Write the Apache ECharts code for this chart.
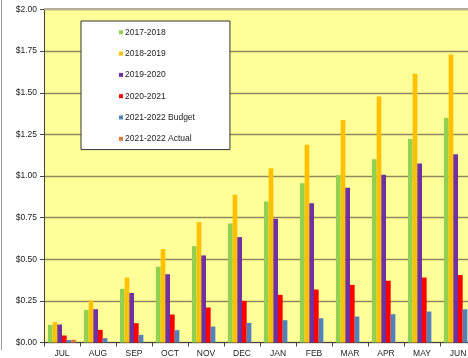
<!DOCTYPE html>
<html>
<head>
<meta charset="utf-8">
<script src="https://cdn.jsdelivr.net/npm/echarts@6/dist/echarts.min.js"></script>
<style>
  html, body { margin: 0; padding: 0; background: #ffffff; }
  #chart { width: 468px; height: 358px; }
</style>
</head>
<body>
<div id="chart"></div>
<script>
// Monthly cumulative cost per unit, fiscal years July–June
const months = ['JUL', 'AUG', 'SEP', 'OCT', 'NOV', 'DEC', 'JAN', 'FEB', 'MAR', 'APR', 'MAY', 'JUN'];
const fy2017 = [0.105, 0.196, 0.322, 0.455, 0.579, 0.715, 0.847, 0.957, 1.005, 1.101, 1.222, 1.350];
const fy2018 = [0.122, 0.252, 0.390, 0.561, 0.723, 0.887, 1.047, 1.187, 1.336, 1.478, 1.614, 1.730];
const fy2019 = [0.108, 0.200, 0.298, 0.410, 0.523, 0.633, 0.743, 0.837, 0.929, 1.007, 1.075, 1.131];
const fy2020 = [0.042, 0.076, 0.116, 0.168, 0.210, 0.250, 0.286, 0.318, 0.346, 0.371, 0.390, 0.405];
const fy2021Budget = [0.015, 0.026, 0.046, 0.074, 0.096, 0.118, 0.134, 0.146, 0.156, 0.170, 0.186, 0.200];
const fy2021Actual = [0.017, null, null, null, null, null, null, null, null, null, null, null];
const yTicks = [0, 0.25, 0.5, 0.75, 1.0, 1.25, 1.5, 1.75, 2.0];

const seriesDefs = [
  { name: '2017-2018', data: fy2017, color: '#92D050' },
  { name: '2018-2019', data: fy2018, color: '#FFC000' },
  { name: '2019-2020', data: fy2019, color: '#7030A0' },
  { name: '2020-2021', data: fy2020, color: '#FF0000' },
  { name: '2021-2022 Budget', data: fy2021Budget, color: '#4F81BD' },
  { name: '2021-2022 Actual', data: fy2021Actual, color: '#E0793A' }
];

const chart = echarts.init(document.getElementById('chart'), null, { renderer: 'canvas' });

const font = 'Liberation Sans, Arial, sans-serif';

chart.setOption({
  animation: false,
  backgroundColor: '#ffffff',
  textStyle: { fontFamily: font },
  grid: {
    left: 44,
    top: 9.5,
    width: 432,
    height: 333,
    outerBoundsMode: 'none',
    containLabel: false,
    show: true,
    backgroundColor: '#FFFF99',
    borderWidth: 0
  },
  legend: {
    orient: 'vertical',
    left: 81,
    top: 21,
    padding: [5.3, 35, 4.8, 38],
    backgroundColor: '#ffffff',
    borderColor: '#333333',
    borderWidth: 1,
    itemWidth: 4,
    itemHeight: 4,
    itemGap: 9.3,
    icon: 'rect',
    textStyle: {
      fontFamily: font,
      fontSize: 8.5,
      lineHeight: 12,
      color: '#222222',
      padding: [0, 0, 0, -3]
    },
    data: seriesDefs.map(s => s.name)
  },
  xAxis: {
    type: 'category',
    data: months,
    boundaryGap: true,
    axisLine: { show: true, lineStyle: { color: '#444444', width: 1 } },
    axisTick: { show: true, length: 4, lineStyle: { color: '#444444' } },
    axisLabel: { color: '#222222', fontSize: 8.5, fontFamily: font, margin: 7, hideOverlap: false },
    splitLine: { show: false }
  },
  yAxis: {
    type: 'value',
    min: 0,
    max: 2,
    interval: 0.25,
    axisLine: { show: true, lineStyle: { color: '#444444', width: 1 } },
    axisTick: { show: true, length: 4, lineStyle: { color: '#444444' } },
    axisLabel: {
      color: '#222222',
      fontSize: 8.5,
      fontFamily: font,
      margin: 7,
      formatter: v => yTicks.includes(v) ? '$' + v.toFixed(2) : ''
    },
    splitLine: { show: true, lineStyle: { color: '#8F895C', width: 1.3 } }
  },
  series: seriesDefs.map(s => ({
    name: s.name,
    type: 'bar',
    data: s.data,
    barGap: '0%',
    barCategoryGap: '22%',
    itemStyle: { color: s.color },
    emphasis: { disabled: true }
  })),
  graphic: [
    {
      type: 'line',
      shape: { x1: 1.5, y1: 0, x2: 1.5, y2: 350 },
      style: { stroke: '#9a9a9a', lineWidth: 1 },
      silent: true
    },
    {
      type: 'line',
      shape: { x1: 44, y1: 9, x2: 476, y2: 9 },
      style: { stroke: '#B5AD98', lineWidth: 2 },
      silent: true,
      z: 10
    }
  ]
});
</script>
</body>
</html>
